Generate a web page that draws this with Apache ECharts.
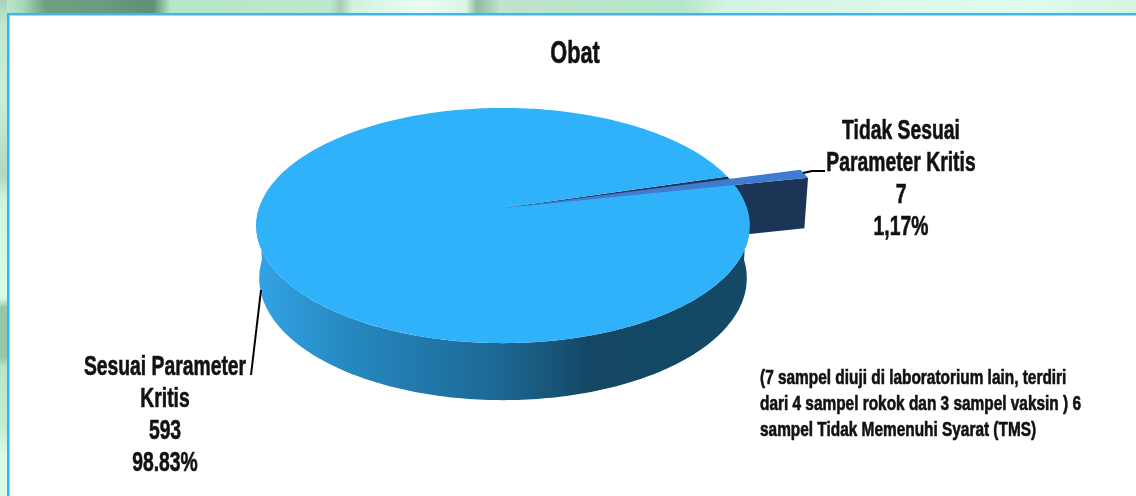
<!DOCTYPE html>
<html>
<head>
<meta charset="utf-8">
<style>html,body{margin:0;padding:0;background:#fff}#main{width:1136px;height:496px}</style>
<script src="https://cdn.jsdelivr.net/npm/echarts@6/dist/echarts.min.js"></script>
</head>
<body>
<div id="main"></div>
<script>
var categories = ['Sesuai Parameter\nKritis', 'Tidak Sesuai\nParameter Kritis'];
var values = [593, 7];
var percentLabels = ['98.83%', '1,17%'];
var titleText = 'Obat';
var noteText = '(7 sampel diuji di laboratorium lain, terdiri\ndari 4 sampel rokok dan 3 sampel vaksin ) 6\nsampel Tidak Memenuhi Syarat (TMS)';

var FONT = '"Liberation Sans", sans-serif';
var total = values[0] + values[1];

// the circle seen in perspective: v is depth, -1 back, 1 front
var cx = 503, R = 244, pa = 84, pb = 208, pc = -0.149;
var GAP_MID = -14.4, GAP = 0.15;
var WEDGE_MID = -13.6, WEDGE_R = 1.33, WEDGE_NARROW = 0.8;

function project(deg, r, low) {
    var t = deg * Math.PI / 180;
    var u = r * Math.cos(t), v = r * Math.sin(t);
    var w = 1 + pc * v;
    var x = cx + R * u / w, y = (pa * v + pb) / w;
    if (low) {
        x = cx + (x - cx) * 0.988;
        y = y + 52 + 5 * v;
    }
    return [x, y];
}

function arc(from, to, r, low) {
    var pts = [], n = Math.ceil(Math.abs(to - from));
    for (var i = 0; i <= n; i++) {
        pts.push(project(from + (to - from) * i / n, r, low));
    }
    return pts;
}

function poly(points, fill, z2) {
    return {type: 'polygon', z2: z2, shape: {points: points}, style: {fill: fill}};
}

// no condensed font installed, so squeeze a bold one sideways
function text(str, x, y, size, lineHeight, squeeze, align) {
    return {
        type: 'text', z2: 20, x: x, y: y, scaleX: squeeze,
        style: {
            text: str, x: 0, y: 0, fill: '#111', stroke: '#111', lineWidth: 0.6,
            align: align || 'center',
            font: 'bold ' + size + 'px ' + FONT, lineHeight: lineHeight
        }
    };
}

function leader(points) {
    return {type: 'polyline', z2: 15, shape: {points: points}, style: {stroke: '#000', lineWidth: 2, fill: null}};
}

function renderSlice(params, api) {
    var sweep = api.value(0) / total * 360;
    var label = categories[params.dataIndex] + '\n' + api.value(0) + '\n' + percentLabels[params.dataIndex];
    if (params.dataIndex === 0) {
        var start = GAP_MID + (360 - sweep) / 2 + GAP;
        var end = GAP_MID + (360 - sweep) / 2 + sweep - GAP;
        var wall = arc(0, 180, 1, false).concat(arc(180, 0, 1, true));
        return {
            type: 'group',
            children: [
                poly(wall, {
                    type: 'linear', x: 0, y: 0, x2: 1, y2: 0,
                    colorStops: [
                        {offset: 0, color: '#33a3e6'},
                        {offset: 0.2, color: '#2587bd'},
                        {offset: 0.5, color: '#1c6793'},
                        {offset: 0.68, color: '#134763'},
                        {offset: 1, color: '#134a66'}
                    ]
                }, 3),
                poly([project(0, 0, false)].concat(arc(start, end, 1, false)), '#30b2fb', 5),
                leader([[261, 290], [251, 375]]),
                text(label, 165, 351, 28, 32, 0.69)
            ]
        };
    }
    var half = sweep * WEDGE_NARROW / 2;
    var lo = WEDGE_MID - half, hi = WEDGE_MID + half;
    var face = [project(0, 0, false), project(hi, WEDGE_R, false), project(hi, WEDGE_R, true), project(0, 0, true)];
    return {
        type: 'group',
        children: [
            poly(face, '#1c3557', 1),
            poly([project(0, 0, false)].concat(arc(GAP_MID - sweep / 2 - GAP, GAP_MID + sweep / 2 + GAP, 1, false)), '#1c3557', 4),
            poly([project(0, 0, false)].concat(arc(lo, hi, WEDGE_R, false)), '#3f7ccf', 6),
            leader([[803, 173], [812, 171], [825, 171]]),
            text(label, 901, 115, 28, 32, 0.69)
        ]
    };
}

var topStops = [
    [0, '#c5ecd3'], [0.02, '#a9d8ba'], [0.04, '#6f9f82'], [0.09, '#6d9a80'], [0.135, '#5f8f75'], [0.15, '#b7e5c8'],
    [0.29, '#bde8ce'], [0.3, '#a5cdb5'], [0.31, '#d0f2df'], [0.37, '#eafdf5'], [0.41, '#dcf5e8'], [0.42, '#8fb9a0'],
    [0.44, '#bfe3cc'], [0.6, '#b5e6ca'], [0.64, '#d3f4e3'], [0.8, '#dcf8ea'], [0.9, '#dffbec'], [1, '#d5f5e3']
];
var leftStops = [
    [0, '#a8d4b8'], [0.05, '#bfe8cf'], [0.2, '#c8f0d9'], [0.35, '#b0d8bf'], [0.4, '#cdf5dd'], [0.6, '#d8fce8'],
    [0.62, '#96c8a8'], [0.72, '#97c8aa'], [0.74, '#b8e4c8'], [0.85, '#c0eccf'], [0.92, '#dbfbe9'], [1, '#dbfbe9']
];

function stops(list) {
    return list.map(function (s) { return {offset: s[0], color: s[1]}; });
}

var option = {
    backgroundColor: '#fff',
    animation: false,
    graphic: [
        {type: 'rect', z: -1, shape: {x: 0, y: 0, width: 1136, height: 14}, style: {fill: {type: 'linear', x: 0, y: 0, x2: 1, y2: 0, colorStops: stops(topStops)}}},
        {type: 'rect', z: -1, shape: {x: 0, y: 0, width: 7, height: 496}, style: {fill: {type: 'linear', x: 0, y: 0, x2: 0, y2: 1, colorStops: stops(leftStops)}}},
        {type: 'rect', z: -1, shape: {x: 7, y: 13, width: 1129, height: 2}, style: {fill: '#3cb6f0'}},
        {type: 'rect', z: -1, shape: {x: 7, y: 15, width: 1129, height: 1}, style: {fill: '#9fdcfb'}},
        {type: 'rect', z: -1, shape: {x: 7, y: 13, width: 2, height: 483}, style: {fill: '#33b5f5'}},
        {type: 'rect', z: -1, shape: {x: 9, y: 15, width: 1, height: 481}, style: {fill: '#9fdcfb'}},
        text(titleText, 575, 36, 32, 36, 0.68),
        text(noteText, 760, 365, 20, 26, 0.77, 'left')
    ],
    series: [{
        type: 'custom',
        coordinateSystem: 'none',
        renderItem: renderSlice,
        silent: true,
        data: values.map(function (v) { return [v]; })
    }]
};

var chart = echarts.init(document.getElementById('main'));
chart.setOption(option);
</script>
</body>
</html>
